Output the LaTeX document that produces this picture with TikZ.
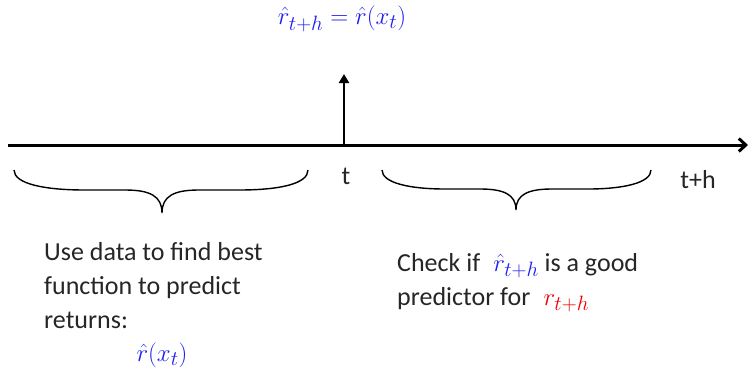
\documentclass[tikz,border=0pt]{standalone}
\usepackage{fontspec}
\setmainfont{Carlito}
\usepackage{tikz}
\usetikzlibrary{arrows.meta,positioning,calc}
\usepackage{xcolor}
\definecolor{predblue}{RGB}{30,30,240}
\definecolor{truered}{RGB}{235,0,0}
\newcommand{\colmath}[2]{{\fontsize{30}{34}\selectfont\color{#1}$#2$}}

\begin{document}
\begin{tikzpicture}[x=1pt, y=-1pt, every node/.style={font=\fontsize{26}{34}\selectfont, text=black!85},
  brace/.style={line width=1.4pt},
  axisline/.style={line width=3pt}]
\useasboundingbox (0,0) rectangle (750,373);
\coordinate (axisL) at (8,145);
\coordinate (axisR) at (748,145);
\coordinate (now) at (344,145);
\coordinate (nowtop) at (344,74);
\draw[axisline, -{Straight Barb[length=7pt,width=13pt]}] (axisL) -- (axisR);
\draw[line width=2.6pt, -{Triangle[length=9pt,width=10pt]}] (now) -- (nowtop);
\node (fcst) at (342,19) {\colmath{predblue}{\hat r_{t+h} = \hat r(x_t)}};
\node (tlab) at (346,176) {t};
\node (thlab) at (698,180) {t+h};
% braces
\draw[brace] (14,170) .. controls (14,184) and (45,190) .. (85,190) -- (125,190)
  .. controls (150,190) and (162,196) .. (162,213)
  .. controls (162,196) and (174,190) .. (199,190) -- (239,190)
  .. controls (279,190) and (308,184) .. (308,170);
\draw[brace] (382,170) .. controls (382,183) and (410,189) .. (445,189) -- (480,189)
  .. controls (503,189) and (516,194) .. (516,210)
  .. controls (516,194) and (529,189) .. (552,189) -- (588,189)
  .. controls (623,189) and (651,183) .. (651,170);
\node[align=left, anchor=base west, inner sep=0pt] (train) at (44,328) {Use data to find best\\function to predict\\returns:};
\node (trainf) at (162,355) {\colmath{predblue}{\hat r(x_t)}};
\node[align=left, anchor=base west, inner sep=0pt] (test) at (397,305) {Check if\; \colmath{predblue}{\hat r_{t+h}} is a good\\predictor for\; \colmath{truered}{r_{t+h}}};
\end{tikzpicture}
\end{document}
